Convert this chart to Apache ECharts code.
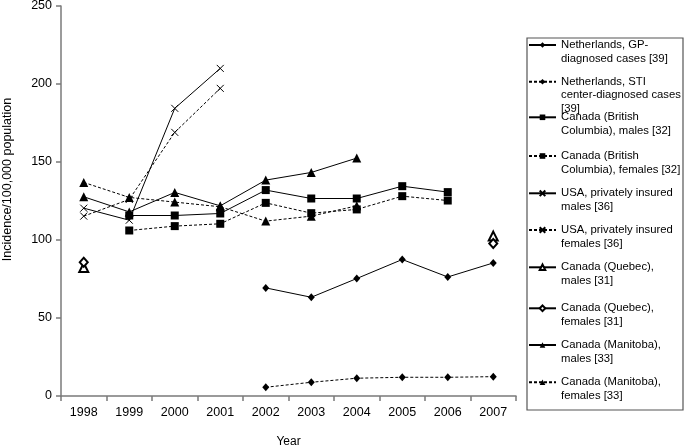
<!DOCTYPE html>
<html>
<head>
<meta charset="utf-8">
<script src="https://cdn.jsdelivr.net/npm/echarts@6/dist/echarts.min.js"></script>
<style>
html,body{margin:0;padding:0;background:#fff;}
#chart{width:685px;height:447px;}
</style>
</head>
<body>
<div id="chart"></div>
<script>
// ---- data ----
var years = ['1998','1999','2000','2001','2002','2003','2004','2005','2006','2007'];
var yTicks = [0, 50, 100, 150, 200, 250];
var nlGP        = [null, null, null, null, 69.3, 63.3, 75.3, 87.5, 76.3, 85.3];
var nlSTI       = [null, null, null, null, 5.6, 8.8, 11.4, 12.0, 12.0, 12.4];
var bcMales     = [null, 115.7, 115.7, 117.0, 132.0, 126.6, 126.6, 134.5, 130.7, null];
var bcFemales   = [null, 106.1, 108.9, 110.4, 123.8, 117.2, 119.6, 128.1, 125.3, null];
var usaMales    = [120.4, 112.7, 184.4, 210.0, null, null, null, null, null, null];
var usaFemales  = [115.3, 126.0, 169.0, 197.2, null, null, null, null, null, null];
var qcMales     = [82.4, null, null, null, null, null, null, null, null, 102.5];
var qcFemales   = [85.8, null, null, null, null, null, null, null, null, 97.8];
var mbMales     = [127.7, 118.0, 130.5, 121.9, 138.4, 143.3, 152.5, null, null, null];
var mbFemales   = [136.9, 127.3, 124.3, 121.3, 112.1, 115.3, 121.9, null, null, null];

var names = [
  'Netherlands, GP-\ndiagnosed cases [39]',
  'Netherlands, STI\ncenter-diagnosed cases\n[39]',
  'Canada (British\nColumbia), males [32]',
  'Canada (British\nColumbia), females [32]',
  'USA, privately insured\nmales [36]',
  'USA, privately insured\nfemales [36]',
  'Canada (Quebec),\nmales [31]',
  'Canada (Quebec),\nfemales [31]',
  'Canada (Manitoba),\nmales [33]',
  'Canada (Manitoba),\nfemales [33]'
];

// ---- styles ----
var FONT = '"Liberation Sans", Arial, Helvetica, sans-serif';
var XPATH = 'path://M0,0L10,10M0,10L10,0';
var DOT = [3, 2];

function mk(name, data, symbol, size, dashed, extra) {
  var s = {
    name: name,
    type: 'line',
    data: data,
    symbol: symbol,
    symbolSize: size,
    connectNulls: false,
    animation: false,
    lineStyle: { color: '#000', width: 1, type: dashed ? DOT : 'solid' },
    itemStyle: { color: '#000' },
    emphasis: { disabled: true }
  };
  if (extra) { for (var k in extra) s[k] = extra[k]; }
  return s;
}

var series = [
  mk(names[0], nlGP, 'diamond', [7, 8], false),
  mk(names[1], nlSTI, 'diamond', [7, 8], true),
  mk(names[2], bcMales, 'rect', 8, false),
  mk(names[3], bcFemales, 'rect', 8, true),
  mk(names[4], usaMales, XPATH, 7, false, { itemStyle: { color: '#000', borderColor: '#000', borderWidth: 1 } }),
  mk(names[5], usaFemales, XPATH, 7, true, { itemStyle: { color: '#000', borderColor: '#000', borderWidth: 1 } }),
  mk(names[6], qcMales, 'emptyTriangle', 9, false, { lineStyle: { color: '#000', width: 3 }, itemStyle: { color: '#000', borderWidth: 1 } }),
  mk(names[7], qcFemales, 'emptyDiamond', [8, 9], false, { lineStyle: { color: '#000', width: 3 }, itemStyle: { color: '#000', borderWidth: 1 } }),
  mk(names[8], mbMales, 'triangle', 9, false),
  mk(names[9], mbFemales, 'triangle', 9, true)
];

// legend: one component per item so each can be placed like the original;
// blank lines are prepended so the icon lines up with the first text line
var firstLineY = [45, 81.7, 117.3, 156, 193.3, 230, 267.3, 308.3, 345, 382.3];
var LH = 13.4;
var legends = names.map(function (n, i) {
  var lines = n.split('\n').length;
  var pad = new Array(lines).join('\n');
  return {
    data: [n],
    orient: 'vertical',
    left: 528,
    top: firstLineY[i] - (2 * lines - 1) * LH / 2,
    padding: 0,
    itemWidth: 27,
    itemHeight: 7,
    selectedMode: false,
    formatter: function (name) { return pad + name; },
    textStyle: {
      fontFamily: FONT,
      fontSize: 11.3,
      color: '#000',
      lineHeight: LH
    }
  };
});

var axisLineStyle = { color: '#7a7a7a', width: 1.5 };

var option = {
  animation: false,
  backgroundColor: '#fff',
  textStyle: { fontFamily: FONT },
  grid: { left: 61, right: 169, top: 6, bottom: 51, containLabel: false, outerBoundsMode: 'none' },
  legend: legends,
  graphic: [{
    type: 'rect',
    shape: { x: 527, y: 38, width: 156, height: 372 },
    style: { fill: 'none', stroke: '#555', lineWidth: 1.2 },
    silent: true,
    z: 100
  }],
  xAxis: {
    type: 'category',
    data: years,
    boundaryGap: true,
    name: 'Year',
    nameLocation: 'middle',
    nameGap: 40,
    nameTextStyle: { fontFamily: FONT, fontSize: 12, color: '#000' },
    axisLine: { lineStyle: axisLineStyle },
    axisTick: { show: true, length: 5, lineStyle: axisLineStyle },
    axisLabel: { fontFamily: FONT, fontSize: 12.5, color: '#000', margin: 10 },
    splitLine: { show: false }
  },
  yAxis: {
    type: 'value',
    min: yTicks[0],
    max: yTicks[yTicks.length - 1],
    interval: 50,
    name: 'Incidence/100,000 population',
    nameLocation: 'middle',
    nameGap: 46.5,
    nameTextStyle: { fontFamily: FONT, fontSize: 12.5, color: '#000', padding: [0, 0, 0, 43] },
    axisLine: { show: true, lineStyle: axisLineStyle },
    axisTick: { show: true, length: 5, lineStyle: axisLineStyle },
    axisLabel: { fontFamily: FONT, fontSize: 12.5, color: '#000', margin: 9 },
    splitLine: { show: false }
  },
  series: series
};

var chart = echarts.init(document.getElementById('chart'), null, { renderer: 'canvas' });
chart.setOption(option);
</script>
</body>
</html>
